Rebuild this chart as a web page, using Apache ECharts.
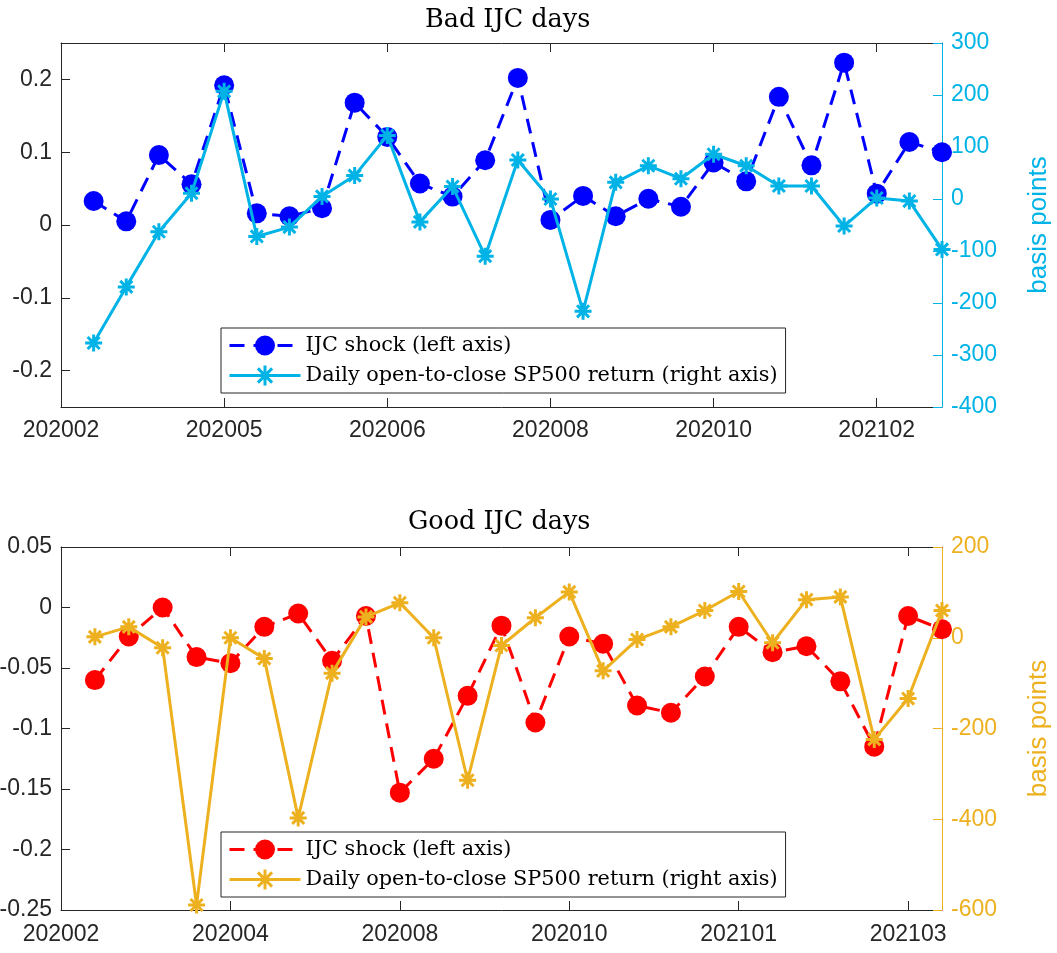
<!DOCTYPE html>
<html><head><meta charset="utf-8">
<script src="https://cdn.jsdelivr.net/npm/echarts@6/dist/echarts.min.js"></script>
<style>
html,body{margin:0;padding:0;background:#fff;}
#c1{position:absolute;left:0;top:0;width:1057px;height:477px;}
#c2{position:absolute;left:0;top:477px;width:1057px;height:476px;}
</style>
</head><body><div id="c1"></div><div id="c2"></div>
<script>
// ---- data ----
const badTickLabels = ['202002','202005','202006','202008','202010','202102'];
const badShock = [0.033,0.005,0.096,0.056,0.192,0.016,0.012,0.023,0.168,0.121,0.057,0.039,0.089,0.202,0.007,0.040,0.012,0.036,0.025,0.086,0.060,0.176,0.082,0.223,0.043,0.114,0.100];
const badReturn = [-277,-169,-63,11,207,-72,-54,5,45,122,-44,24,-110,75,0,-216,32,64,39,86,64,25,25,-52,2,-4,-97];
const goodTickLabels = ['202002','202004','202008','202010','202101','202103'];
const goodShock = [-0.060,-0.024,0.000,-0.041,-0.046,-0.016,-0.005,-0.044,-0.007,-0.153,-0.125,-0.073,-0.015,-0.095,-0.024,-0.030,-0.081,-0.087,-0.057,-0.016,-0.037,-0.032,-0.061,-0.115,-0.007,-0.018];
const goodReturn = [2,24,-22,-589,0,-46,-397,-78,46,77,0,-314,-17,44,101,-73,-4,24,60,102,-11,84,90,-224,-134,60];
const shockName = 'IJC shock (left axis)';
const returnName = 'Daily open-to-close SP500 return (right axis)';

const STAR = 'path://M0,5L10,5M5,0L5,10M1.46,1.46L8.54,8.54M1.46,8.54L8.54,1.46';
const AX = '#262626';
const SANS = 'Liberation Sans';

function build(p) {
  const n = p.shock.length;
  const tickPos = p.tickLabels.map((_, i) => i * 5);
  const xCommon = {
    type: 'value', min: 0, max: n,
    axisLine: {show: true, onZero: false, lineStyle: {color: AX, width: 1}},
    axisTick: {show: true, inside: true, length: 9, customValues: tickPos, lineStyle: {color: AX, width: 1}},
    splitLine: {show: false}
  };
  return {
    animation: false,
    title: {
      text: p.title, left: p.titleLeft, top: p.titleTop, padding: 0,
      textStyle: {fontFamily: 'DejaVu Serif', fontWeight: 'normal', fontSize: 25.5, color: '#000'}
    },
    legend: {
      show: true, orient: 'vertical', left: 221, top: p.legendTop,
      data: [
        {name: shockName, itemStyle: {borderWidth: 0}},
        {name: returnName, itemStyle: {borderWidth: 3}}
      ],
      backgroundColor: '#fff', borderColor: AX, borderWidth: 1, borderRadius: 0,
      padding: [7, 8, 6, 7], itemGap: 8, itemWidth: 71, itemHeight: 25,
      selectedMode: false,
      lineStyle: {width: 3},
      textStyle: {fontFamily: 'DejaVu Serif', fontSize: 20.8, color: '#000'}
    },
    grid: {left: 61, top: p.gridTop, width: 881, height: p.gridHeight, outerBoundsMode: 'none', containLabel: false},
    xAxis: [
      Object.assign({}, xCommon, {
        position: 'bottom',
        axisLabel: {show: true, customValues: tickPos, margin: p.xMargin,
          formatter: v => { const k = Math.round(v / 5); return p.tickLabels[k] || ''; },
          fontFamily: SANS, fontSize: 23, color: AX}
      }),
      Object.assign({}, xCommon, {position: 'top', axisLabel: {show: false}})
    ],
    yAxis: [
      Object.assign({
        type: 'value', position: 'left', min: p.lMin, max: p.lMax,
        axisLine: {show: true, onZero: false, lineStyle: {color: AX, width: 1}},
        axisTick: {show: true, inside: true, length: 9, lineStyle: {color: AX}},
        axisLabel: {margin: 9, fontFamily: SANS, fontSize: 23, color: AX},
        splitLine: {show: false}
      }, p.lExtra),
      {
        type: 'value', position: 'right', min: p.rMin, max: p.rMax, interval: p.rInt,
        name: 'basis points', nameLocation: 'middle', nameGap: 84,
        nameTextStyle: {fontFamily: SANS, fontSize: 26, color: p.c2},
        axisLine: {show: true, onZero: false, lineStyle: {color: p.c2, width: 1}},
        axisTick: {show: true, inside: true, length: 9, lineStyle: {color: p.c2}},
        axisLabel: {margin: 9, fontFamily: SANS, fontSize: 23, color: p.c2},
        splitLine: {show: false}
      }
    ],
    series: [
      {
        name: shockName, type: 'line', xAxisIndex: 0, yAxisIndex: 0,
        data: p.shock.map((v, i) => [i + 1, v]),
        symbol: 'circle', symbolSize: 20, showAllSymbol: true,
        lineStyle: {color: p.c1, width: 3, type: [15, 9]},
        itemStyle: {color: p.c1},
        z: 2
      },
      {
        name: returnName, type: 'line', xAxisIndex: 0, yAxisIndex: 1,
        data: p.ret.map((v, i) => [i + 1, v]),
        symbol: STAR, symbolSize: 17, showAllSymbol: true,
        lineStyle: {color: p.c2, width: 3, type: 'solid'},
        itemStyle: {color: p.c2, borderColor: p.c2, borderWidth: 3},
        z: 3
      }
    ]
  };
}

const c1 = echarts.init(document.getElementById('c1'), null, {renderer: 'canvas'});
c1.setOption(build({
  title: 'Bad IJC days', titleLeft: 425, titleTop: 7,
  legendTop: 328, gridTop: 43, gridHeight: 364, xMargin: 12,
  tickLabels: badTickLabels, shock: badShock, ret: badReturn,
  lMin: -0.25, lMax: 0.25,
  lExtra: {axisLabel: {margin: 9, fontFamily: SANS, fontSize: 23, color: AX, customValues: [-0.2, -0.1, 0, 0.1, 0.2]},
           axisTick: {show: true, inside: true, length: 9, lineStyle: {color: AX}, customValues: [-0.2, -0.1, 0, 0.1, 0.2]}},
  rMin: -400, rMax: 300, rInt: 100,
  c1: '#0000FF', c2: '#00B3E6'
}));

const c2 = echarts.init(document.getElementById('c2'), null, {renderer: 'canvas'});
c2.setOption(build({
  title: 'Good IJC days', titleLeft: 408, titleTop: 32,
  legendTop: 355, gridTop: 70, gridHeight: 363, xMargin: 13,
  tickLabels: goodTickLabels, shock: goodShock, ret: goodReturn,
  lMin: -0.25, lMax: 0.05,
  lExtra: {interval: 0.05},
  rMin: -600, rMax: 200, rInt: 200,
  c1: '#FF0000', c2: '#EDB120'
}));
</script>
</body></html>
